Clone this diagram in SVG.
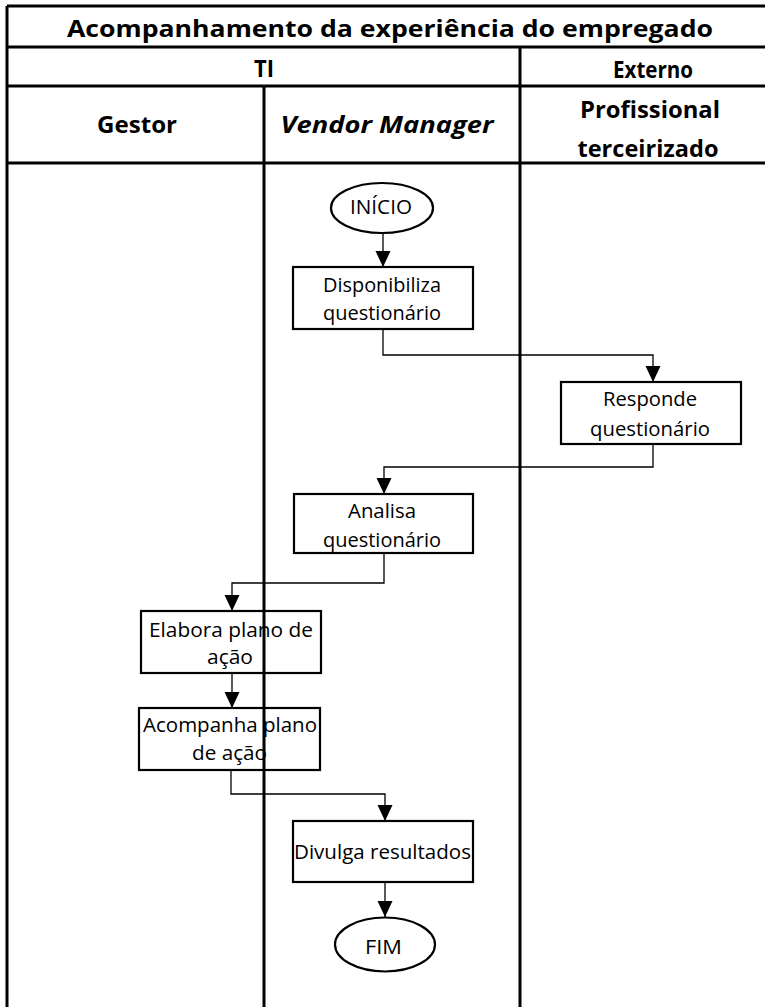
<svg xmlns="http://www.w3.org/2000/svg" width="765" height="1007" viewBox="0 0 765 1007">
<style>
.lane{stroke:#000;stroke-width:3;fill:none}
.box{fill:#fff;stroke:#000;stroke-width:2.2}
.con{fill:none;stroke:#000;stroke-width:1.3}
.t{font-family:"Open Sans","Noto Sans",sans-serif;font-size:20px;fill:#000;text-anchor:middle}
.h{font-family:"Open Sans","Noto Sans",sans-serif;font-size:24px;font-weight:bold;fill:#000;text-anchor:middle}
</style>
<defs>
<marker id="arr" markerUnits="userSpaceOnUse" markerWidth="16" markerHeight="16" viewBox="0 0 16 16" refX="16" refY="7.5" orient="auto">
<path d="M0,0 L16,7.5 L0,15 z" fill="#000"/>
</marker>
</defs>
<rect width="765" height="1007" fill="#fff"/>
<g id="header">
<text class="h" x="390" y="37" font-size="27" textLength="646" lengthAdjust="spacingAndGlyphs">Acompanhamento da experiência do empregado</text>
<text class="h" x="264" y="77" textLength="20" lengthAdjust="spacingAndGlyphs">TI</text>
<text class="h" x="653" y="78" textLength="80" lengthAdjust="spacingAndGlyphs">Externo</text>
<text class="h" x="137" y="133" textLength="80" lengthAdjust="spacingAndGlyphs">Gestor</text>
<text class="h" x="387" y="133" font-style="italic" textLength="213" lengthAdjust="spacingAndGlyphs">Vendor Manager</text>
<text class="h" x="650" y="118" textLength="140" lengthAdjust="spacingAndGlyphs">Profissional</text>
<text class="h" x="648" y="157" textLength="141" lengthAdjust="spacingAndGlyphs">terceirizado</text>
</g>
<g id="connectors">
<path class="con" d="M383,234 L383,267" marker-end="url(#arr)"/>
<path class="con" d="M383,329 L383,355 L653,355 L653,382" marker-end="url(#arr)"/>
<path class="con" d="M653,444 L653,467 L384,467 L384,494" marker-end="url(#arr)"/>
<path class="con" d="M384,553 L384,583 L232,583 L232,611" marker-end="url(#arr)"/>
<path class="con" d="M232,673 L232,708" marker-end="url(#arr)"/>
<path class="con" d="M231,770 L231,794 L385,794 L385,821" marker-end="url(#arr)"/>
<path class="con" d="M385,882 L385,917" marker-end="url(#arr)"/>
</g>
<g id="inicio">
<ellipse class="box" cx="382" cy="208" rx="51" ry="25"/>
<text class="t" x="381" y="214" textLength="62" lengthAdjust="spacingAndGlyphs">INÍCIO</text>
</g>
<g id="disponibiliza">
<rect class="box" x="293" y="267" width="180" height="62"/>
<text class="t" x="382" y="292" textLength="118" lengthAdjust="spacingAndGlyphs">Disponibiliza</text>
<text class="t" x="382" y="320" textLength="118" lengthAdjust="spacingAndGlyphs">questionário</text>
</g>
<g id="responde">
<rect class="box" x="561" y="382" width="180" height="62"/>
<text class="t" x="650" y="406" textLength="94" lengthAdjust="spacingAndGlyphs">Responde</text>
<text class="t" x="650" y="436" textLength="120" lengthAdjust="spacingAndGlyphs">questionário</text>
</g>
<g id="analisa">
<rect class="box" x="294" y="494" width="179" height="59"/>
<text class="t" x="382" y="518" textLength="68" lengthAdjust="spacingAndGlyphs">Analisa</text>
<text class="t" x="382" y="547" textLength="118" lengthAdjust="spacingAndGlyphs">questionário</text>
</g>
<g id="elabora">
<rect class="box" x="141" y="611" width="180" height="62"/>
<text class="t" x="231" y="637" textLength="164" lengthAdjust="spacingAndGlyphs">Elabora plano de</text>
<text class="t" x="230" y="664" textLength="46" lengthAdjust="spacingAndGlyphs">ação</text>
</g>
<g id="acompanha">
<rect class="box" x="139" y="708" width="181" height="62"/>
<text class="t" x="230" y="732" textLength="174" lengthAdjust="spacingAndGlyphs">Acompanha plano</text>
<text class="t" x="229.5" y="760" textLength="75" lengthAdjust="spacingAndGlyphs">de ação</text>
</g>
<g id="divulga">
<rect class="box" x="293" y="821" width="180" height="61"/>
<text class="t" x="382.5" y="859" textLength="177" lengthAdjust="spacingAndGlyphs">Divulga resultados</text>
</g>
<g id="fim">
<ellipse class="box" cx="385" cy="944.5" rx="50" ry="27"/>
<text class="t" x="383.5" y="954" textLength="37" lengthAdjust="spacingAndGlyphs">FIM</text>
</g>
<g id="lanes">
<path class="lane" d="M7,6 L765,6 M7,6 L7,1007 M7,47 L765,47 M7,86 L765,86 M7,163 L765,163 M520,47 L520,1007 M264,86 L264,1007"/>
</g>
</svg>
